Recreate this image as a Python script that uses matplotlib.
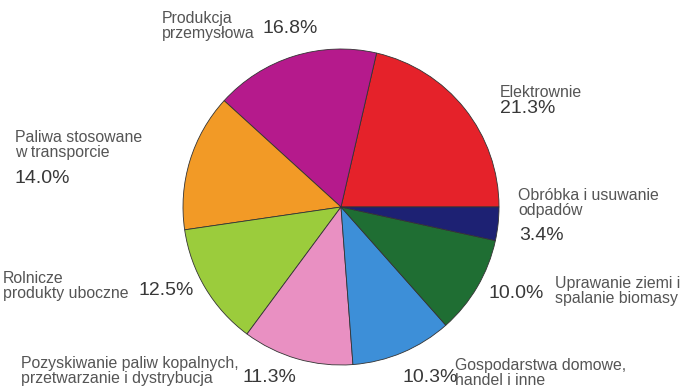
import matplotlib.pyplot as plt

# Shares of sources, counterclockwise from 3 o'clock
labels = ["Elektrownie", "Produkcja\nprzemysłowa", "Paliwa stosowane\nw transporcie",
          "Rolnicze\nprodukty uboczne", "Pozyskiwanie paliw kopalnych,\nprzetwarzanie i dystrybucja",
          "Gospodarstwa domowe,\nhandel i inne", "Uprawanie ziemi i\nspalanie biomasy",
          "Obróbka i usuwanie\nodpadów"]
shares = [21.3, 16.8, 14.0, 12.5, 11.3, 10.3, 10.0, 3.4]
colors = ["#e5222a", "#b51a8c", "#f29a26", "#9bcc3c", "#e990c2",
          "#3d8fd8", "#1f6e33", "#1d2173"]

# baseline of last text line (pixels from top-left)
label_pos = [(500, 97), (162, 38), (15, 157), (3, 298), (21, 383), (455, 385), (555, 303), (518, 215)]
pct_pos = [(500, 113), (263, 33), (15, 183), (138, 295), (243, 382), (402, 382), (488, 298), (519, 240)]

W, H = 687, 389
fig = plt.figure(figsize=(6.87, 3.89), dpi=100)
ax = fig.add_axes([0, 0, 1, 1])

ax.pie(shares, colors=colors, startangle=0, counterclock=True,
       center=(341, H - 207), radius=158, frame=True,
       wedgeprops=dict(edgecolor="#333333", linewidth=0.6))

for lab, (x, y) in zip(labels, label_pos):
    ax.text(x, H - y, lab, fontsize=11.4, family="Liberation Sans", color="#555555",
            ha="left", va="baseline", linespacing=1.02)
for s, (x, y) in zip(shares, pct_pos):
    ax.text(x, H - y, f"{s:.1f}%", fontsize=14, family="Liberation Sans",
            color="#383838", ha="left", va="baseline")

ax.set_xlim(0, W)
ax.set_ylim(0, H)
ax.set_aspect("auto")
ax.axis("off")
fig.savefig("out.png", dpi=100, facecolor="white")
